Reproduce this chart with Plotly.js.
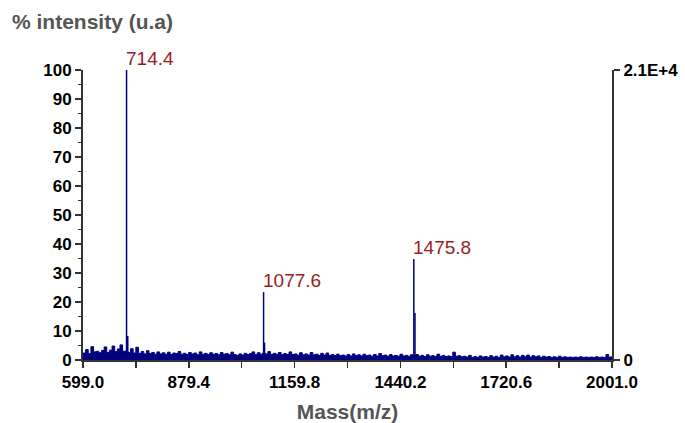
<!DOCTYPE html>
<html>
<head>
<meta charset="utf-8">
<script src="https://cdn.plot.ly/plotly-3.0.1.min.js"></script>
<style>html,body{margin:0;padding:0;background:#fff;}#chart{width:685px;height:423px;}</style>
</head>
<body>
<div id="chart"></div>
<script>
// Baseline (noise) of the spectrum, m/z and % intensity
var noiseMz = [
599,606,613,620,627,634,641,648,655,662,
669,676,683,690,697,704,711,718,725,732,
739,746,753,760,767,774,781,788,795,802,
809,816,823,830,837,844,851,858,865,872,
879,886,893,900,907,914,921,928,935,942,
949,956,963,970,977,984,991,998,1005,1012,
1019,1026,1033,1040,1047,1054,1061,1068,1075,1082,
1089,1096,1103,1110,1117,1124,1131,1138,1145,1152,
1159,1166,1173,1180,1187,1194,1201,1208,1215,1222,
1229,1236,1243,1250,1257,1264,1271,1278,1285,1292,
1299,1306,1313,1320,1327,1334,1341,1348,1355,1362,
1369,1376,1383,1390,1397,1404,1411,1418,1425,1432,
1439,1446,1453,1460,1467,1474,1481,1488,1495,1502,
1509,1516,1523,1530,1537,1544,1551,1558,1565,1572,
1579,1586,1593,1600,1607,1614,1621,1628,1635,1642,
1649,1656,1663,1670,1677,1684,1691,1698,1705,1712,
1719,1726,1733,1740,1747,1754,1761,1768,1775,1782,
1789,1796,1803,1810,1817,1824,1831,1838,1845,1852,
1859,1866,1873,1880,1887,1894,1901,1908,1915,1922,
1929,1936,1943,1950,1957,1964,1971,1978,1985,1992,
1999,2001];
var noiseInt = [
2.4,3.6,2.2,4.6,2.8,3.0,2.5,3.3,4.5,2.6,
3.4,4.8,2.9,3.8,5.2,3.0,3.1,2.6,3.9,2.4,
4.4,2.3,2.9,2.1,3.2,2.2,2.6,2.0,2.8,2.1,
2.5,2.0,2.7,1.9,2.4,2.2,2.9,2.0,2.3,1.9,
2.6,2.1,2.4,1.8,2.8,2.0,2.3,1.9,2.5,2.0,
2.2,1.8,2.6,2.0,2.2,1.8,2.7,1.9,1.6,2.1,
1.7,2.3,1.9,2.2,2.8,1.9,2.5,2.0,2.4,2.1,
2.9,1.9,2.3,2.0,2.6,1.8,2.2,1.9,2.8,1.9,
2.1,1.7,2.5,1.8,2.1,1.7,2.6,1.8,2.0,1.6,
2.3,1.7,2.4,1.6,1.9,1.5,2.0,1.5,1.7,1.4,
1.9,1.4,2.1,1.5,1.8,1.4,2.0,1.5,1.7,1.3,
1.9,1.4,2.2,1.5,1.7,1.3,1.9,1.4,1.6,1.3,
2.0,1.4,1.6,1.3,1.8,1.4,1.9,1.3,1.6,1.2,
1.8,1.3,1.5,1.2,2.0,1.3,1.6,1.2,1.4,1.2,
2.7,1.3,1.5,1.1,1.3,1.0,1.6,0.9,1.2,0.9,
1.4,1.0,1.2,0.9,1.5,1.0,1.3,0.9,1.7,1.1,
1.4,1.0,1.8,1.1,1.5,1.0,1.6,1.1,1.7,1.0,
1.5,1.1,1.4,0.9,1.3,1.0,1.2,0.9,1.1,0.9,
1.3,0.9,1.1,0.9,1.0,0.9,1.0,0.9,1.1,0.9,
1.0,0.9,1.0,0.9,1.1,0.9,1.0,0.9,1.9,1.0,
1.1,1.0];

// Peaks (m/z, % intensity)
var peakMz  = [714.4, 717.6, 1077.6, 1080.2, 1475.8, 1478.9];
var peakInt = [100, 8.3, 23.4, 6.0, 34.8, 16.2];

// Labelled peaks
var labelMz   = [714.4, 1077.6, 1475.8];
var labelInt  = [100, 23.4, 34.8];
var labelText = ['714.4', '1077.6', '1475.8'];

// Axis ticks
var xTickVals  = [599.0, 879.4, 1159.8, 1440.2, 1720.6, 2001.0];
var xTickText  = ['599.0', '879.4', '1159.8', '1440.2', '1720.6', '2001.0'];
var xMinorVals = [739.2, 1019.6, 1300.0, 1580.4, 1860.8];
var y2TickVals = [0, 21000];
var y2TickText = ['0', '2.1E+4'];

var navy = '#000080';
var stickX = [], stickY = [];
for (var i = 0; i < peakMz.length; i++) {
  stickX.push(peakMz[i], peakMz[i], null);
  stickY.push(0, peakInt[i], null);
}

var traces = [
  {x: noiseMz, y: noiseInt, type: 'scatter', mode: 'lines', fill: 'tozeroy',
   fillcolor: navy, line: {color: navy, width: 1, shape: 'hv'}, hoverinfo: 'skip'},
  {x: stickX, y: stickY, type: 'scatter', mode: 'lines',
   line: {color: navy, width: 1.5}, hoverinfo: 'skip'},
  {x: [599, 2001], y: [0, 0], yaxis: 'y2', type: 'scatter', mode: 'lines',
   line: {color: 'rgba(0,0,0,0)', width: 0}, hoverinfo: 'skip'}
];

var fam = '"Liberation Sans", Arial, sans-serif';
var tickFont = {family: fam, size: 17, color: '#000', weight: 'bold'};

var annotations = labelMz.map(function (m, i) {
  return {x: m, y: labelInt[i], xref: 'x', yref: 'y', text: labelText[i],
          showarrow: false, xanchor: 'left', yanchor: 'bottom', xshift: -3, yshift: -1,
          font: {family: fam, size: 19, color: '#961e1e'}};
});

var layout = {
  width: 685, height: 423,
  margin: {l: 83, r: 73, t: 70, b: 63, pad: 0},
  paper_bgcolor: '#fff', plot_bgcolor: '#fff',
  showlegend: false,
  font: {family: fam},
  title: {text: '% intensity (u.a)', xref: 'container', yref: 'container',
          x: 12 / 685, xanchor: 'left', y: 1 - 22 / 423, yanchor: 'middle',
          font: {family: fam, size: 21, color: '#555', weight: 'bold'}},
  xaxis: {
    range: [599, 2001], tickmode: 'array', tickvals: xTickVals, ticktext: xTickText,
    ticks: 'outside', ticklen: 6, tickwidth: 1.5, tickcolor: '#333',
    minor: {tickmode: 'array', tickvals: xMinorVals, ticks: 'outside', ticklen: 6, tickwidth: 1.5, tickcolor: '#333'},
    showline: true, linecolor: '#333', linewidth: 2, showgrid: false, zeroline: false,
    tickfont: tickFont,
    title: {text: 'Mass(m/z)', standoff: 19, font: {family: fam, size: 21, color: '#555', weight: 'bold'}}
  },
  yaxis: {
    range: [0, 100], tickmode: 'linear', tick0: 0, dtick: 10,
    ticks: 'outside', ticklen: 6, tickwidth: 1.5, tickcolor: '#333',
    minor: {dtick: 5, ticks: 'outside', ticklen: 3, tickwidth: 1.5, tickcolor: '#333'},
    showline: true, linecolor: '#333', linewidth: 2, showgrid: false, zeroline: false,
    tickfont: tickFont
  },
  yaxis2: {
    overlaying: 'y', side: 'right', anchor: 'x', range: [0, 21000],
    tickmode: 'array', tickvals: y2TickVals, ticktext: y2TickText,
    ticks: 'outside', ticklen: 6, tickwidth: 1.5, tickcolor: '#333',
    showline: true, linecolor: '#333', linewidth: 2, showgrid: false, zeroline: false,
    tickfont: tickFont
  },
  annotations: annotations
};

Plotly.newPlot('chart', traces, layout, {displayModeBar: false, staticPlot: true});
</script>
</body>
</html>
